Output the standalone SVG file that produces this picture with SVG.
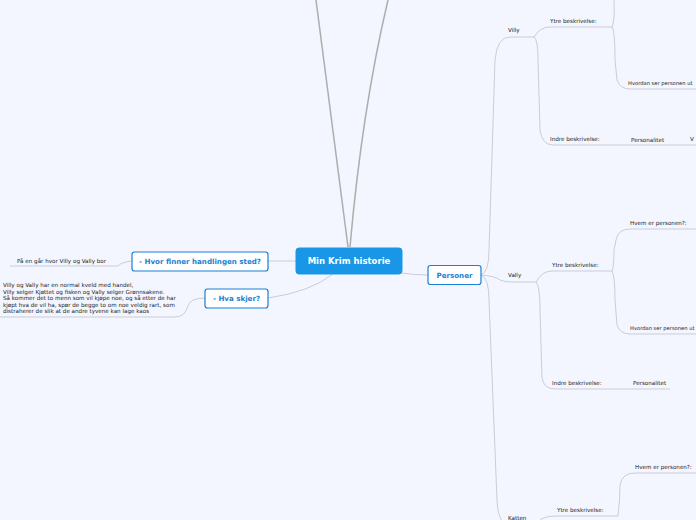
<svg xmlns="http://www.w3.org/2000/svg" width="696" height="520" viewBox="0 0 696 520">
<style>
.bg{fill:#f3f6fe}
.c{fill:none;stroke:#c9cdd8;stroke-width:1}
.cm{fill:none;stroke:#adadad;stroke-width:1.5}
.t{font-family:"DejaVu Sans",sans-serif;font-size:5.6px;fill:#222}
.tn{font-size:5.2px}
.main{fill:#1a96e6;stroke:#1a96e6}
.mt{font-family:"DejaVu Sans",sans-serif;font-size:8.5px;font-weight:bold;fill:#fff}
.sub{fill:#fff;stroke:#1a7fd6;stroke-width:1.2}
.st{font-family:"DejaVu Sans",sans-serif;font-size:7.1px;font-weight:bold;fill:#1a7fd6}
</style>
<rect class="bg" width="696" height="520"/>
<g id="connectors">
<path class="cm" d="M348,247 Q332,120 316,0"/>
<path class="cm" d="M350,247 Q362,110 388,0"/>
<path class="c" d="M296,261 L268,261"/>
<path class="c" d="M333,274 Q310,292 268,298"/>
<path class="c" d="M132,261 Q122,262 118,266 L10,266"/>
<path class="c" d="M205,298 Q190,298 188,306 Q185,317 175,317 L0,317"/>
<path class="c" d="M402,273 Q414,275 428,275"/>
<path class="c" d="M481,275 Q489,272 489,250 L495,60 Q497,37 510,37 L534,37"/>
<path class="c" d="M481,275 Q495,276 500,280 Q504,282 512,282 L536,282"/>
<path class="c" d="M481,275 Q489,278 489,300 L497,500 Q498,525 510,525"/>
<path class="c" d="M534,37 Q540,27 550,27 L612,27"/>
<path class="c" d="M534,37 Q538,40 538,60 L540,130 Q542,145 553,145 L696,145"/>
<path class="c" d="M612,27 Q615,20 614,0"/>
<path class="c" d="M612,27 Q615,30 615,60 L617,80 Q620,89 630,89 L696,89"/>
<path class="c" d="M536,282 Q542,271 552,271 L612,271"/>
<path class="c" d="M536,282 Q540,286 540,310 L542,378 Q544,389 555,389 L670,389"/>
<path class="c" d="M612,271 Q614,266 614,250 L616,240 Q618,229 630,229 L696,229"/>
<path class="c" d="M612,271 Q615,276 615,300 L617,325 Q620,334 630,334 L696,334"/>
<path class="c" d="M540,520 Q545,516 557,516 L618,516"/>
<path class="c" d="M618,516 Q620,500 620,485 Q622,473 635,473 L696,473"/>
</g>
<g id="n-main">
<rect class="main" x="296" y="248" width="106" height="26" rx="3"/>
<text class="mt" x="349" y="264" text-anchor="middle">Min Krim historie</text>
</g>
<g id="n-personer">
<rect class="sub" x="428" y="265.5" width="53" height="19" rx="2.5"/>
<text class="st" x="454.5" y="277.5" text-anchor="middle">Personer</text>
</g>
<g id="n-hvor">
<rect class="sub" x="132" y="252" width="136" height="19" rx="2.5"/>
<text class="st" x="200" y="264" text-anchor="middle">- Hvor finner handlingen sted?</text>
</g>
<g id="n-hva">
<rect class="sub" x="205" y="289" width="63" height="19" rx="2.5"/>
<text class="st" x="236.5" y="301" text-anchor="middle">- Hva skjer?</text>
</g>
<g id="n-pagen"><text class="t" x="17" y="263">På en går hvor Villy og Vally bor</text></g>
<g id="n-hvaskjer-text">
<text class="t" x="3" y="287">Villy og Vally har en normal kveld med handel,</text>
<text class="t" x="3" y="294">Villy selger Kjøttet og fisken og Vally selger Grønnsakene.</text>
<text class="t" x="3" y="300">Så kommer det to menn som vil kjøpe noe, og så etter de har</text>
<text class="t" x="3" y="307">kjøpt hva de vil ha, spør de begge to om noe veldig rart, som</text>
<text class="t" x="3" y="313">distraherer de slik at de andre tyvene kan lage kaos</text>
</g>
<g id="n-villy"><text class="t" x="508" y="32">Villy</text></g>
<g id="n-villy-ytre"><text class="t" x="550" y="23">Ytre beskrivelse:</text></g>
<g id="n-villy-hvordan"><text class="t tn" x="628" y="85">Hvordan ser personen ut</text></g>
<g id="n-villy-indre"><text class="t" x="550" y="141">Indre beskrivelse:</text></g>
<g id="n-villy-pers"><text class="t" x="631" y="142">Personalitet</text></g>
<g id="n-villy-v"><text class="t" x="690" y="141">V</text></g>
<g id="n-vally"><text class="t" x="508" y="277">Vally</text></g>
<g id="n-vally-ytre"><text class="t" x="552" y="267">Ytre beskrivelse:</text></g>
<g id="n-vally-hvem"><text class="t" x="630" y="225">Hvem er personen?:</text></g>
<g id="n-vally-hvordan"><text class="t tn" x="630" y="330">Hvordan ser personen ut</text></g>
<g id="n-vally-indre"><text class="t" x="552" y="385">Indre beskrivelse:</text></g>
<g id="n-vally-pers"><text class="t" x="633" y="385">Personalitet</text></g>
<g id="n-katten"><text class="t" x="508" y="520">Katten</text></g>
<g id="n-katten-ytre"><text class="t" x="557" y="512">Ytre beskrivelse:</text></g>
<g id="n-katten-hvem"><text class="t" x="635" y="469">Hvem er personen?:</text></g>
</svg>
